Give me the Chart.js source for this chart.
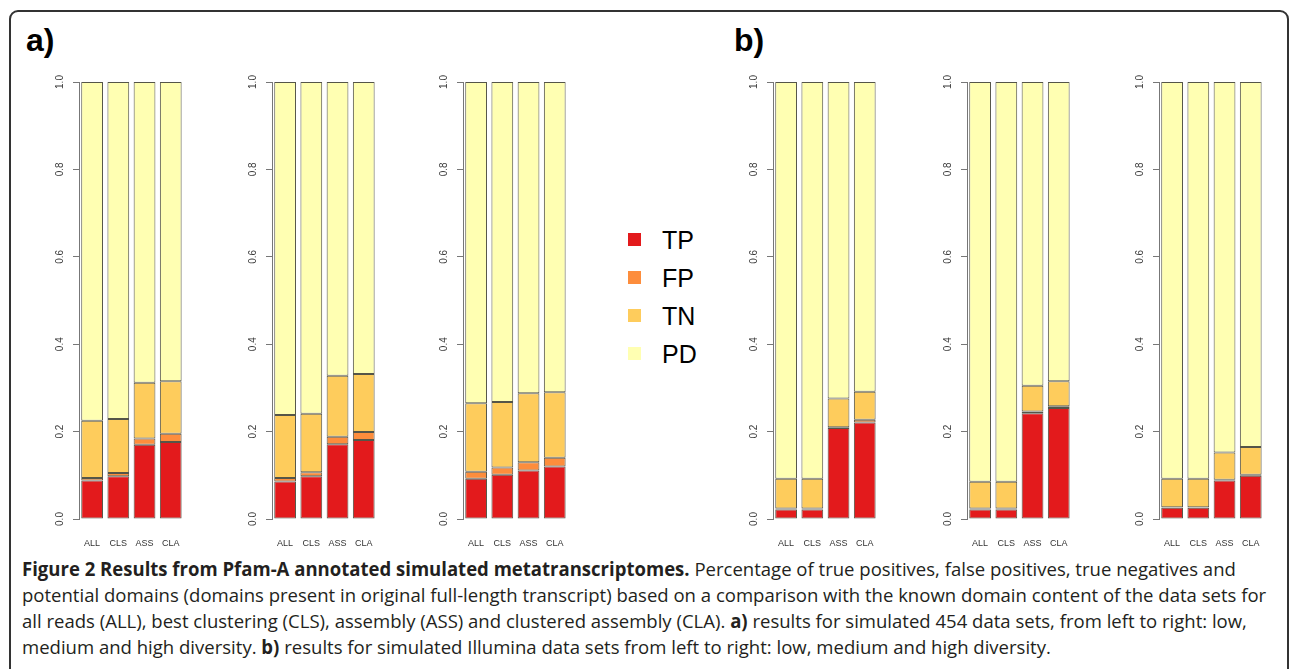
<!DOCTYPE html>
<html>
<head>
<meta charset="utf-8">
<title>Results from Pfam-A annotated simulated metatranscriptomes</title>
<script src="https://cdn.jsdelivr.net/npm/chart.js@4.4.1/dist/chart.umd.min.js"></script>
<style>
  html, body { margin: 0; padding: 0; background: #fff; }
  #page { position: relative; width: 1290px; height: 669px; overflow: hidden; background: #fff; }
  .frame { position: absolute; left: 9px; top: 10px; width: 1276px; height: 720px;
           border: 2px solid #333; border-radius: 9px; box-sizing: content-box; }
  .panel-tag { position: absolute; top: 24px; font: bold 32px/32px "Liberation Sans", Arial, sans-serif; color: #000; }
  .plot { position: absolute; top: 70px; width: 165px; height: 490px; }
  .legend { position: absolute; left: 628px; top: 227px; }
  .legend .row { position: absolute; left: 0; width: 120px; height: 26px; }
  .legend .sw { position: absolute; left: 0; top: 6px; width: 13px; height: 13px; }
  .legend .lb { position: absolute; left: 34px; top: 0; font: 25px/26px "Liberation Sans", Arial, sans-serif; color: #000; }
  .caption { position: absolute; left: 22px; white-space: nowrap; font: 19px/26px "Open Sans", sans-serif;
             color: #231f20; transform-origin: 0 50%; }
  .caption b { font-weight: 700; }
</style>
</head>
<body>
<div id="page">
  <div class="frame"></div>
  <div class="panel-tag" style="left:26px">a)</div>
  <div class="panel-tag" style="left:734px">b)</div>
  <div class="legend" id="legend"></div>
  <div class="caption" data-w="1218" style="top:556px"><b>Figure 2 Results from Pfam-A annotated simulated metatranscriptomes.</b> Percentage of true positives, false positives, true negatives and</div>
  <div class="caption" data-w="1240" style="top:582px">potential domains (domains present in original full-length transcript) based on a comparison with the known domain content of the data sets for</div>
  <div class="caption" style="top:608px">all reads (ALL), best clustering (CLS), assembly (ASS) and clustered assembly (CLA). <b>a)</b> results for simulated 454 data sets, from left to right: low,</div>
  <div class="caption" style="top:634px">medium and high diversity. <b>b)</b> results for simulated Illumina data sets from left to right: low, medium and high diversity.</div>
</div>
<script>
// Pipelines compared in every panel
const categories = ['ALL', 'CLS', 'ASS', 'CLA'];
const seriesNames = ['TP', 'FP', 'TN', 'PD'];
const seriesColors = ['#E31A1C', '#FD8D3C', '#FECC5C', '#FFFFB2'];
const yTickValues = [0, 0.2, 0.4, 0.6, 0.8, 1.0];
const yTickLabels = ['0.0', '0.2', '0.4', '0.6', '0.8', '1.0'];

// a) simulated 454 data sets — low diversity
const tp454Low  = [0.088, 0.098, 0.170, 0.176];
const fp454Low  = [0.006, 0.007, 0.014, 0.019];
const tn454Low  = [0.131, 0.124, 0.128, 0.120];
const pd454Low  = [0.775, 0.771, 0.688, 0.685];
// a) simulated 454 data sets — medium diversity
const tp454Med  = [0.086, 0.098, 0.171, 0.181];
const fp454Med  = [0.008, 0.009, 0.017, 0.018];
const tn454Med  = [0.144, 0.134, 0.140, 0.133];
const pd454Med  = [0.762, 0.759, 0.672, 0.668];
// a) simulated 454 data sets — high diversity
const tp454High = [0.092, 0.101, 0.111, 0.120];
const fp454High = [0.016, 0.017, 0.019, 0.020];
const tn454High = [0.157, 0.150, 0.158, 0.150];
const pd454High = [0.735, 0.732, 0.712, 0.710];

// b) simulated Illumina data sets — low diversity
const tpIllLow  = [0.022, 0.022, 0.208, 0.221];
const fpIllLow  = [0.002, 0.002, 0.002, 0.006];
const tnIllLow  = [0.068, 0.068, 0.066, 0.064];
const pdIllLow  = [0.908, 0.908, 0.724, 0.709];
// b) simulated Illumina data sets — medium diversity
const tpIllMed  = [0.022, 0.022, 0.242, 0.254];
const fpIllMed  = [0.002, 0.002, 0.004, 0.004];
const tnIllMed  = [0.061, 0.061, 0.059, 0.057];
const pdIllMed  = [0.915, 0.915, 0.695, 0.685];
// b) simulated Illumina data sets — high diversity
const tpIllHigh = [0.026, 0.026, 0.088, 0.099];
const fpIllHigh = [0.001, 0.001, 0.002, 0.002];
const tnIllHigh = [0.065, 0.065, 0.062, 0.064];
const pdIllHigh = [0.908, 0.908, 0.848, 0.835];

const panels = [
  { axisX: 79,   series: [tp454Low,  fp454Low,  tn454Low,  pd454Low]  },
  { axisX: 272,  series: [tp454Med,  fp454Med,  tn454Med,  pd454Med]  },
  { axisX: 463,  series: [tp454High, fp454High, tn454High, pd454High] },
  { axisX: 773,  series: [tpIllLow,  fpIllLow,  tnIllLow,  pdIllLow]  },
  { axisX: 967,  series: [tpIllMed,  fpIllMed,  tnIllMed,  pdIllMed]  },
  { axisX: 1159, series: [tpIllHigh, fpIllHigh, tnIllHigh, pdIllHigh] }
];

const Y_SCALE_WIDTH = 45;
const page = document.getElementById('page');

panels.forEach((p) => {
  const box = document.createElement('div');
  box.className = 'plot';
  box.style.left = (p.axisX - Y_SCALE_WIDTH) + 'px';
  const cv = document.createElement('canvas');
  cv.width = 165; cv.height = 490;
  cv.style.width = '165px'; cv.style.height = '490px';
  box.appendChild(cv);
  page.appendChild(box);

  new Chart(cv, {
    type: 'bar',
    data: {
      labels: categories,
      datasets: p.series.map((vals, i) => ({
        label: seriesNames[i],
        data: vals,
        backgroundColor: seriesColors[i],
        borderColor: 'rgba(55,55,40,0.85)',
        borderWidth: 1,
        borderSkipped: false,
        categoryPercentage: 1,
        barPercentage: 0.83
      }))
    },
    options: {
      responsive: false,
      animation: false,
      devicePixelRatio: 1,
      layout: { padding: { top: 12, right: 4, bottom: 0, left: 0 } },
      plugins: { legend: { display: false }, tooltip: { enabled: false } },
      scales: {
        x: {
          stacked: true,
          grid: { display: false, drawTicks: false },
          border: { display: false },
          ticks: {
            padding: 19, minRotation: 0, maxRotation: 0, color: '#333',
            font: { family: '"Liberation Sans", Arial, sans-serif', size: 9 }
          },
          afterFit: (s) => { s.height = 41; }
        },
        y: {
          stacked: true,
          min: 0, max: 1,
          afterBuildTicks: (s) => { s.ticks = yTickValues.map((v) => ({ value: v })); },
          ticks: {
            callback: (v, i) => yTickLabels[i],
            minRotation: 90, maxRotation: 90,
            crossAlign: 'center', padding: 6, color: '#3a3a3a',
            font: { family: '"Liberation Sans", Arial, sans-serif', size: 10 }
          },
          grid: { display: true, drawOnChartArea: false, drawTicks: true, tickLength: 6, color: '#777' },
          border: { display: true, color: '#777', width: 1 },
          afterFit: (s) => { s.width = Y_SCALE_WIDTH; }
        }
      }
    }
  });
});

// Shared legend between the two figure halves
const legend = document.getElementById('legend');
seriesNames.forEach((name, i) => {
  const row = document.createElement('div');
  row.className = 'row';
  row.style.top = (i * 38) + 'px';
  row.innerHTML = '<div class="sw" style="background:' + seriesColors[i] + '"></div><div class="lb">' + name + '</div>';
  legend.appendChild(row);
});

// Condense the caption font uniformly, sized from the full-width lines
const lines = Array.from(document.querySelectorAll('.caption'));
const fitted = lines.filter((el) => el.dataset.w);
const ratio = fitted.reduce((acc, el) => acc + parseFloat(el.dataset.w) / el.scrollWidth, 0) / fitted.length;
lines.forEach((el) => { el.style.transform = 'scaleX(' + ratio.toFixed(4) + ')'; });
</script>
</body>
</html>
